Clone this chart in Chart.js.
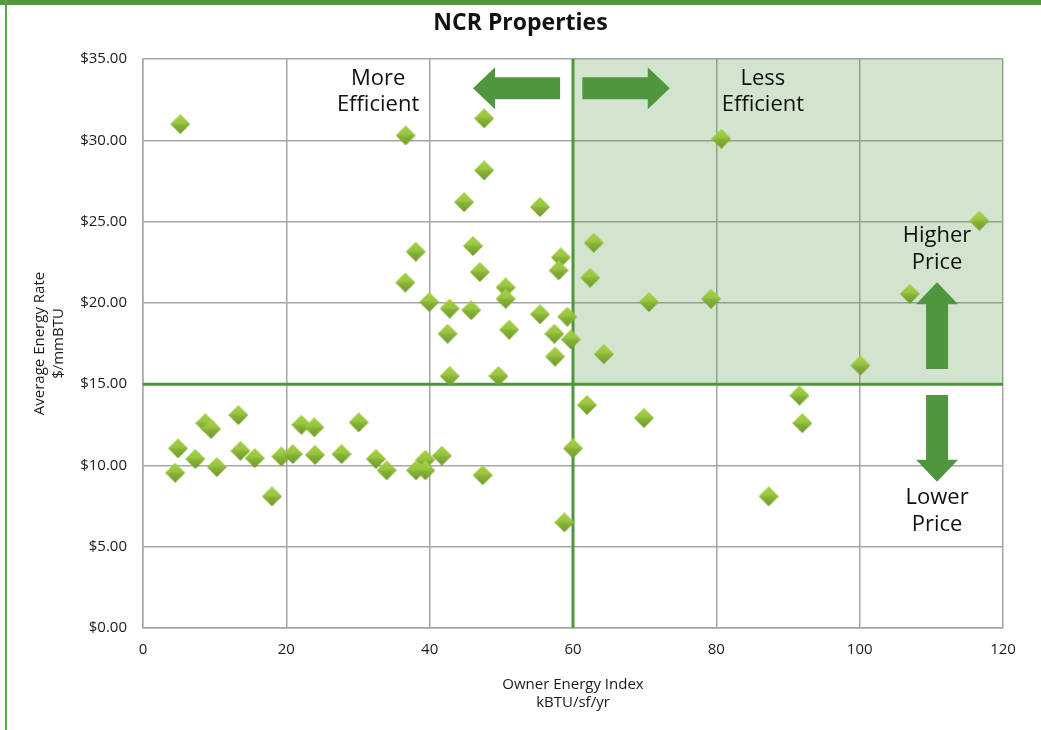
<!DOCTYPE html>
<html><head><meta charset="utf-8">
<script src="https://cdn.jsdelivr.net/npm/chart.js@4.4.1/dist/chart.umd.min.js"></script>
<style>html,body{margin:0;padding:0;background:#fff;}#wrap{width:1041px;height:730px;position:relative;}</style>
</head><body><div id="wrap"><canvas id="c" width="1041" height="730"></canvas></div>
<script>
const chartTitle = 'NCR Properties';
const xAxisTitle = ['Owner Energy Index', 'kBTU/sf/yr'];
const yAxisTitle = ['Average Energy Rate', '$/mmBTU'];
const xTicks = [0, 20, 40, 60, 80, 100, 120];
const yTicks = [0, 5, 10, 15, 20, 25, 30, 35];
const efficiencyThreshold = 60;
const priceThreshold = 15;
const labelMore = ['More', 'Efficient'];
const labelLess = ['Less', 'Efficient'];
const labelHigher = ['Higher', 'Price'];
const labelLower = ['Lower', 'Price'];

const energyIndex = [5.2, 4.5, 4.9, 7.3, 8.7, 9.5, 10.3, 13.3, 13.6, 15.6, 18.0, 19.3, 20.9, 22.1, 23.9, 24.0, 27.7, 30.1, 32.5, 34.0, 38.1, 39.4, 39.4, 41.7, 47.4, 58.8, 60.0, 61.95, 69.9, 87.3, 91.6, 92.0, 47.6, 36.65, 47.6, 44.8, 55.4, 38.05, 46.05, 62.9, 58.3, 36.6, 47.0, 58.0, 62.4, 50.6, 50.6, 39.95, 42.8, 45.8, 70.6, 55.4, 59.2, 42.5, 51.1, 57.4, 59.7, 57.5, 64.3, 42.8, 49.6, 80.7, 116.7, 79.25, 107.0, 100.1];
const energyRate = [31.0, 9.55, 11.05, 10.4, 12.6, 12.25, 9.9, 13.1, 10.9, 10.45, 8.1, 10.55, 10.7, 12.5, 12.35, 10.65, 10.7, 12.65, 10.4, 9.7, 9.7, 10.35, 9.7, 10.6, 9.4, 6.5, 11.05, 13.72, 12.92, 8.1, 14.3, 12.6, 31.35, 30.3, 28.15, 26.2, 25.9, 23.15, 23.5, 23.7, 22.8, 21.25, 21.9, 22.0, 21.55, 20.95, 20.25, 20.05, 19.65, 19.55, 20.05, 19.3, 19.15, 18.1, 18.35, 18.1, 17.75, 16.7, 16.85, 15.5, 15.5, 30.1, 25.05, 20.25, 20.55, 16.15];

const FONT = '"Open Sans", "Noto Sans", sans-serif';
const GREEN = '#50963f';
const GRID = '#a6a6a6';

// diamond marker image
function makeDiamond(size) {
  const cv = document.createElement('canvas');
  cv.width = size; cv.height = size;
  const g = cv.getContext('2d');
  const h = size / 2;
  const grad = g.createLinearGradient(0, 0, 0, size);
  grad.addColorStop(0, '#a8d148');
  grad.addColorStop(0.45, '#98c63e');
  grad.addColorStop(0.55, '#88b337');
  grad.addColorStop(1, '#6f9a2d');
  g.fillStyle = grad;
  g.beginPath();
  g.moveTo(h, 0); g.lineTo(size, h); g.lineTo(h, size); g.lineTo(0, h); g.closePath();
  g.fill();
  return cv;
}
const diamond = makeDiamond(20);

function drawArrow(ctx, x1, y1, x2, y2, shaft, headW, headL) {
  const dx = x2 - x1, dy = y2 - y1;
  const len = Math.hypot(dx, dy);
  ctx.save();
  ctx.translate(x1, y1);
  ctx.rotate(Math.atan2(dy, dx));
  ctx.beginPath();
  ctx.moveTo(0, -shaft / 2);
  ctx.lineTo(len - headL, -shaft / 2);
  ctx.lineTo(len - headL, -headW / 2);
  ctx.lineTo(len, 0);
  ctx.lineTo(len - headL, headW / 2);
  ctx.lineTo(len - headL, shaft / 2);
  ctx.lineTo(0, shaft / 2);
  ctx.closePath();
  ctx.fillStyle = GREEN;
  ctx.fill();
  ctx.restore();
}

const decor = {
  id: 'decor',
  beforeDraw(chart) {
    const ctx = chart.ctx;
    ctx.save();
    ctx.fillStyle = '#fff';
    ctx.fillRect(0, 0, chart.width, chart.height);
    ctx.fillStyle = '#53973f';
    ctx.fillRect(0, 0, chart.width, 5);
    ctx.fillStyle = '#5aa64a';
    ctx.fillRect(5, 0, 2, chart.height);
    ctx.fillStyle = '#111';
    ctx.font = 'bold 23px ' + FONT;
    ctx.textAlign = 'center';
    ctx.textBaseline = 'middle';
    ctx.fillText(chartTitle, chart.width / 2, 23);
    ctx.restore();
  },
  beforeDatasetsDraw(chart) {
    const {ctx, chartArea: a, scales: {x, y}} = chart;
    const x0 = x.getPixelForValue(efficiencyThreshold);
    const y0 = y.getPixelForValue(priceThreshold);
    ctx.save();
    ctx.fillStyle = 'rgba(82,150,63,0.26)';
    ctx.fillRect(x0, a.top, a.right - x0, y0 - a.top);
    ctx.strokeStyle = GREEN;
    ctx.lineWidth = 3;
    ctx.beginPath();
    ctx.moveTo(x0, a.top); ctx.lineTo(x0, a.bottom);
    ctx.moveTo(a.left, y0); ctx.lineTo(a.right, y0);
    ctx.stroke();
    ctx.restore();
  },
  afterDatasetsDraw(chart) {
    const {ctx, scales: {x, y}} = chart;
    const P = (vx, vy) => [x.getPixelForValue(vx), y.getPixelForValue(vy)];
    const arrow = (a, b) => { const p = P(a[0], a[1]), q = P(b[0], b[1]); drawArrow(ctx, p[0], p[1], q[0], q[1], 22, 42, 22); };
    arrow([58.2, 33.2], [46.05, 33.2]);
    arrow([61.3, 33.2], [73.5, 33.2]);
    arrow([110.8, 15.93], [110.8, 21.27]);
    arrow([110.8, 14.33], [110.8, 9.0]);
    ctx.save();
    ctx.fillStyle = '#111';
    ctx.font = '22px ' + FONT;
    ctx.textAlign = 'center';
    ctx.textBaseline = 'middle';
    const text = (lines, vx, vy1, vy2) => {
      const p1 = P(vx, vy1), p2 = P(vx, vy2);
      ctx.fillText(lines[0], p1[0], p1[1]);
      ctx.fillText(lines[1], p2[0], p2[1]);
    };
    text(labelMore, 32.8, 33.77, 32.17);
    text(labelLess, 86.5, 33.77, 32.17);
    text(labelHigher, 110.8, 24.1, 22.45);
    text(labelLower, 110.8, 8.0, 6.34);
    ctx.restore();
  }
};

const points = energyIndex.map((v, i) => ({x: v, y: energyRate[i]}));

new Chart(document.getElementById('c'), {
  type: 'scatter',
  data: {
    datasets: [{
      data: points,
      pointStyle: diamond,
      pointRadius: 10,
      pointHoverRadius: 10
    }]
  },
  options: {
    responsive: false,
    animation: false,
    devicePixelRatio: 1,
    layout: {padding: {top: 59, right: 38, bottom: 0, left: 0}},
    plugins: {legend: {display: false}, tooltip: {enabled: false}, title: {display: false}},
    scales: {
      x: {
        type: 'linear', min: 0, max: 120,
        afterBuildTicks: s => { s.ticks = xTicks.map(v => ({value: v})); },
        afterFit: s => { s.height = 102; },
        grid: {color: GRID, lineWidth: 1.5, drawTicks: false},
        border: {color: GRID, width: 1.5},
        ticks: {padding: 13, color: '#1a1a1a', maxRotation: 0, font: {family: FONT, size: 15}},
        title: {display: true, text: xAxisTitle, color: '#1a1a1a', font: {family: FONT, size: 15, lineHeight: 1.2}, padding: {top: 0, bottom: 18}}
      },
      y: {
        type: 'linear', min: 0, max: 35,
        afterBuildTicks: s => { s.ticks = yTicks.map(v => ({value: v})); },
        afterFit: s => { s.width = 143; },
        grid: {color: GRID, lineWidth: 1.5, drawTicks: false},
        border: {color: GRID, width: 1.5},
        ticks: {padding: 16, color: '#1a1a1a', font: {family: FONT, size: 15}, callback: v => '$' + Number(v).toFixed(2)},
        title: {display: true, text: yAxisTitle, color: '#1a1a1a', font: {family: FONT, size: 15, lineHeight: 1.27}, padding: {top: 30, bottom: 0}}
      }
    }
  },
  plugins: [decor]
});
</script></body></html>
